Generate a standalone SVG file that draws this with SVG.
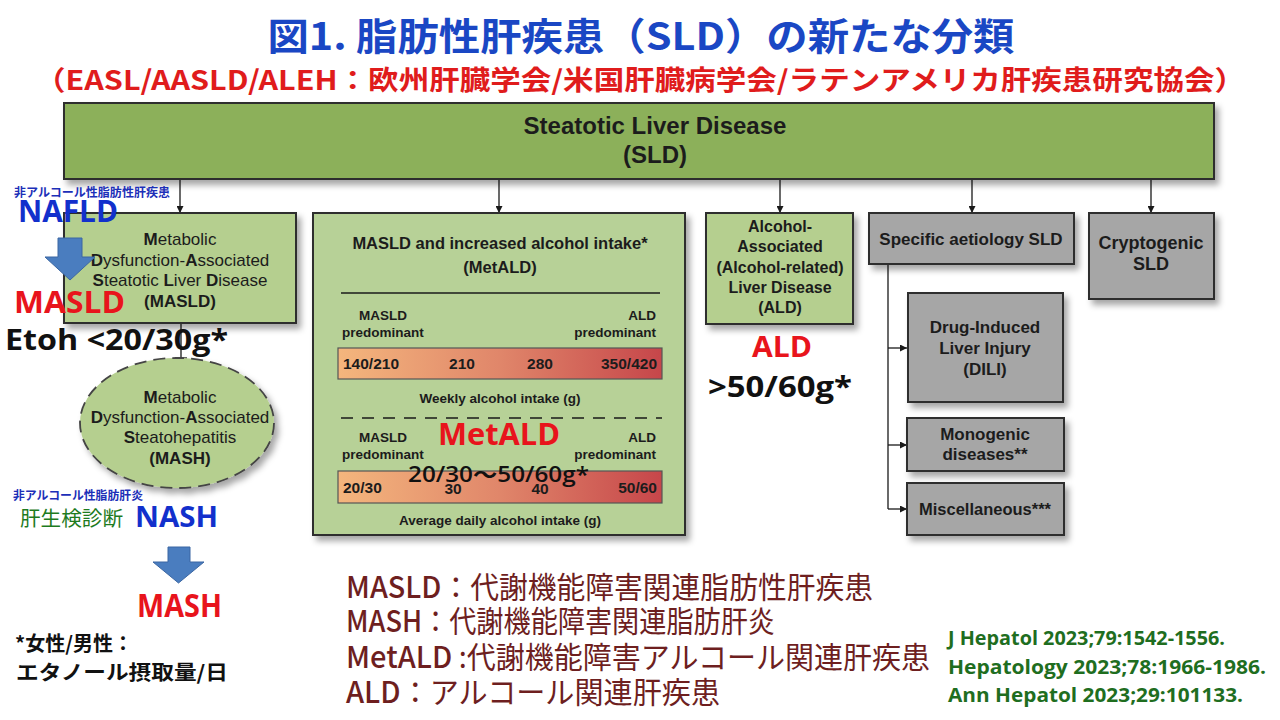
<svg xmlns="http://www.w3.org/2000/svg" width="1280" height="720" viewBox="0 0 1280 720">
<defs>
<style>
.bx{font-family:"Liberation Sans",Arial,sans-serif;fill:#1c1c1c;text-anchor:middle}
.b{font-weight:bold}
.jp{font-family:"Open Sans","Noto Sans CJK JP",sans-serif;font-weight:bold}
.cn{stroke:#1a1a1a;stroke-width:1.3;fill:none}
.gbox{fill:#a6a6a6;stroke:#2e2e2e;stroke-width:2}
.lbox{fill:#b5cf8f;stroke:#2e2e2e;stroke-width:2}
.barnum{font-size:15.5px;font-weight:bold}
.small{font-size:13.5px;font-weight:bold}
.bot{font-family:"Noto Sans CJK JP",sans-serif;fill:#6e1f1f;font-size:30px}
.ref{font-family:"Open Sans","Liberation Sans",sans-serif;fill:#1f6e1f;font-weight:bold;font-size:20px}
.bluearrow{fill:#4a7dbf;stroke:#3b67a3;stroke-width:1}
</style>
<filter id="sh" x="-10%" y="-10%" width="130%" height="140%">
<feDropShadow dx="4" dy="5" stdDeviation="3" flood-color="#000" flood-opacity="0.35"/>
</filter>
<marker id="ah" viewBox="0 0 10 10" refX="10" refY="5" markerWidth="7" markerHeight="7" orient="auto" markerUnits="userSpaceOnUse">
<path d="M0,0 L10,5 L0,10 Z" fill="#1a1a1a"/>
</marker>
<linearGradient id="grad" x1="0" y1="0" x2="1" y2="0">
<stop offset="0" stop-color="#f4b67d"/>
<stop offset="0.5" stop-color="#e0866a"/>
<stop offset="1" stop-color="#c6464a"/>
</linearGradient>
</defs>
<rect width="1280" height="720" fill="#ffffff"/>

<!-- Title -->
<g id="title">
<text x="641" y="50" text-anchor="middle" font-family="'Noto Sans CJK JP',sans-serif" font-weight="bold" font-size="38" fill="#1a47c4" textLength="747" lengthAdjust="spacingAndGlyphs">図1. 脂肪性肝疾患（SLD）の新たな分類</text>
<text x="640" y="90" text-anchor="middle" font-family="'Noto Sans CJK JP',sans-serif" font-weight="bold" font-size="27" fill="#e01c1c" textLength="1210" lengthAdjust="spacingAndGlyphs">（EASL/AASLD/ALEH：欧州肝臓学会/米国肝臓病学会/ラテンアメリカ肝疾患研究協会）</text>
</g>

<!-- Connectors -->
<g id="connectors">
<line class="cn" x1="180" y1="179" x2="180" y2="213" marker-end="url(#ah)"/>
<line class="cn" x1="499" y1="179" x2="499" y2="213" marker-end="url(#ah)"/>
<line class="cn" x1="780" y1="179" x2="780" y2="213" marker-end="url(#ah)"/>
<line class="cn" x1="972" y1="179" x2="972" y2="213" marker-end="url(#ah)"/>
<line class="cn" x1="1151" y1="179" x2="1151" y2="213" marker-end="url(#ah)"/>
<line class="cn" x1="181" y1="323" x2="181" y2="358"/>
<line class="cn" x1="175" y1="358" x2="187" y2="358"/>
<line class="cn" x1="888" y1="264" x2="888" y2="509"/>
<line class="cn" x1="888" y1="348" x2="907" y2="348" marker-end="url(#ah)"/>
<line class="cn" x1="888" y1="445" x2="907" y2="445" marker-end="url(#ah)"/>
<line class="cn" x1="888" y1="509" x2="907" y2="509" marker-end="url(#ah)"/>
</g>

<!-- SLD -->
<g id="sld">
<rect x="64" y="103" width="1150" height="76" fill="#8cb05a" stroke="#2e2e2e" stroke-width="2" filter="url(#sh)"/>
<text class="bx b" x="655" y="134" font-size="24">Steatotic Liver Disease</text>
<text class="bx b" x="655" y="163" font-size="24">(SLD)</text>
</g>

<!-- MASLD -->
<g id="masld">
<rect class="lbox" x="64" y="213" width="232" height="110" filter="url(#sh)"/>
<text class="bx" x="180" y="245" font-size="17"><tspan font-weight="bold">M</tspan>etabolic</text>
<text class="bx" x="180" y="266" font-size="17"><tspan font-weight="bold">D</tspan>ysfunction-<tspan font-weight="bold">A</tspan>ssociated</text>
<text class="bx" x="180" y="286" font-size="17"><tspan font-weight="bold">S</tspan>teatotic <tspan font-weight="bold">L</tspan>iver <tspan font-weight="bold">D</tspan>isease</text>
<text class="bx b" x="180" y="307" font-size="17">(MASLD)</text>
</g>

<!-- MASH -->
<g id="mash">
<ellipse cx="177" cy="423" rx="97" ry="65" fill="#b5cf8f" stroke="#444" stroke-width="1.8" stroke-dasharray="12,7" filter="url(#sh)"/>
<text class="bx" x="180" y="403" font-size="17"><tspan font-weight="bold">M</tspan>etabolic</text>
<text class="bx" x="180" y="423" font-size="17"><tspan font-weight="bold">D</tspan>ysfunction-<tspan font-weight="bold">A</tspan>ssociated</text>
<text class="bx" x="180" y="443" font-size="17"><tspan font-weight="bold">S</tspan>teatohepatitis</text>
<text class="bx b" x="180" y="464" font-size="17">(MASH)</text>
</g>

<!-- MetALD -->
<g id="metald">
<rect x="313" y="213" width="372" height="322" fill="#b7d197" stroke="#2e2e2e" stroke-width="2" filter="url(#sh)"/>
<text class="bx b" x="500" y="249" font-size="16.5">MASLD and increased alcohol intake*</text>
<text class="bx b" x="500" y="273" font-size="16.5">(MetALD)</text>
<line x1="341" y1="293" x2="660" y2="293" stroke="#1a1a1a" stroke-width="1.5"/>
<text class="bx small" x="383" y="320">MASLD</text>
<text class="bx small" x="383" y="337">predominant</text>
<text class="bx small" x="656" y="320" style="text-anchor:end">ALD</text>
<text class="bx small" x="656" y="337" style="text-anchor:end">predominant</text>
<rect x="338" y="348" width="324" height="31" fill="url(#grad)" stroke="#555" stroke-width="1.2"/>
<text class="bx barnum" x="343" y="369" style="text-anchor:start">140/210</text>
<text class="bx barnum" x="462" y="369">210</text>
<text class="bx barnum" x="540" y="369">280</text>
<text class="bx barnum" x="657" y="369" style="text-anchor:end">350/420</text>
<text class="bx small" x="500" y="403">Weekly alcohol intake (g)</text>
<line x1="341" y1="418" x2="662" y2="418" stroke="#1a1a1a" stroke-width="1.5" stroke-dasharray="12,9"/>
<text class="bx small" x="383" y="442">MASLD</text>
<text class="bx small" x="383" y="459">predominant</text>
<text class="bx small" x="656" y="442" style="text-anchor:end">ALD</text>
<text class="bx small" x="656" y="459" style="text-anchor:end">predominant</text>
<rect x="338" y="471" width="324" height="32" fill="url(#grad)" stroke="#555" stroke-width="1.2"/>
<text class="bx barnum" x="343" y="493" style="text-anchor:start">20/30</text>
<text class="bx barnum" x="453" y="494">30</text>
<text class="bx barnum" x="540" y="494">40</text>
<text class="bx barnum" x="657" y="493" style="text-anchor:end">50/60</text>
<text class="bx small" x="500" y="525">Average daily alcohol intake (g)</text>
</g>

<!-- ALD -->
<g id="ald">
<rect class="lbox" x="706" y="213" width="147" height="111" filter="url(#sh)"/>
<text class="bx b" x="780" y="232" font-size="16">Alcohol-</text>
<text class="bx b" x="780" y="252" font-size="16">Associated</text>
<text class="bx b" x="780" y="273" font-size="16">(Alcohol-related)</text>
<text class="bx b" x="780" y="293" font-size="16">Liver Disease</text>
<text class="bx b" x="780" y="313" font-size="16">(ALD)</text>
</g>

<!-- Specific aetiology -->
<g id="specific">
<rect class="gbox" x="869" y="213" width="205" height="51" filter="url(#sh)"/>
<text class="bx b" x="971" y="245" font-size="17">Specific aetiology SLD</text>
</g>
<g id="cryptogenic">
<rect class="gbox" x="1089" y="213" width="125" height="86" filter="url(#sh)"/>
<text class="bx b" x="1151" y="249" font-size="18">Cryptogenic</text>
<text class="bx b" x="1151" y="270" font-size="18">SLD</text>
</g>
<g id="dili">
<rect class="gbox" x="908" y="293" width="155" height="109" filter="url(#sh)"/>
<text class="bx b" x="985" y="333" font-size="17">Drug-Induced</text>
<text class="bx b" x="985" y="354" font-size="17">Liver Injury</text>
<text class="bx b" x="985" y="375" font-size="17">(DILI)</text>
</g>
<g id="monogenic">
<rect class="gbox" x="907" y="418" width="157" height="53" filter="url(#sh)"/>
<text class="bx b" x="985" y="440" font-size="17">Monogenic</text>
<text class="bx b" x="985" y="460" font-size="17">diseases**</text>
</g>
<g id="misc">
<rect class="gbox" x="907" y="483" width="157" height="52" filter="url(#sh)"/>
<text class="bx b" x="985" y="515" font-size="16.5">Miscellaneous***</text>
</g>

<!-- Overlay annotations -->
<g id="left-notes">
<text x="14" y="197" font-family="'Noto Sans CJK JP',sans-serif" font-weight="bold" font-size="12" fill="#1c2fb8" textLength="156" lengthAdjust="spacingAndGlyphs">非アルコール性脂肪性肝疾患</text>
<text class="jp" x="18" y="222" font-size="31" fill="#1230cc" textLength="100" lengthAdjust="spacingAndGlyphs">NAFLD</text>
<path class="bluearrow" d="M58,238 H82 V257 H95 L70,280 L45,257 H58 Z"/>
<text class="jp" x="14" y="313" font-size="31" fill="#e8141c" textLength="111" lengthAdjust="spacingAndGlyphs">MASLD</text>
<text class="jp" x="5" y="350" font-size="29" fill="#111" textLength="223" lengthAdjust="spacingAndGlyphs">Etoh &lt;20/30g*</text>
<text x="13" y="500" font-family="'Noto Sans CJK JP',sans-serif" font-weight="bold" font-size="12" fill="#1c2fb8" textLength="130" lengthAdjust="spacingAndGlyphs">非アルコール性脂肪肝炎</text>
<text x="20" y="526" font-family="'Noto Sans CJK JP',sans-serif" font-size="20" fill="#1e7b1e" textLength="103" lengthAdjust="spacingAndGlyphs">肝生検診断</text>
<text class="jp" x="135" y="527" font-size="29" fill="#1230cc" textLength="83" lengthAdjust="spacingAndGlyphs">NASH</text>
<path class="bluearrow" d="M168,547 H190 V562 H204 L178.5,583 L153,562 H168 Z"/>
<text class="jp" x="137" y="617" font-size="32" fill="#e8141c" textLength="85" lengthAdjust="spacingAndGlyphs">MASH</text>
<text x="15" y="651" font-family="'Noto Sans CJK JP',sans-serif" font-weight="bold" font-size="20" fill="#111">*女性/男性：</text>
<text x="16" y="680" font-family="'Noto Sans CJK JP',sans-serif" font-weight="bold" font-size="20" fill="#111" textLength="212" lengthAdjust="spacingAndGlyphs">エタノール摂取量/日</text>
</g>

<g id="center-notes">
<text class="jp" x="438" y="445" font-size="30" fill="#e8141c" textLength="122" lengthAdjust="spacingAndGlyphs">MetALD</text>
<text x="408" y="482" font-family="'Open Sans','Noto Sans CJK JP',sans-serif" font-weight="600" font-size="21" fill="#111" textLength="181" lengthAdjust="spacingAndGlyphs">20/30〜50/60g*</text>
<text class="jp" x="752" y="357" font-size="28" fill="#e8141c" textLength="60" lengthAdjust="spacingAndGlyphs">ALD</text>
<text class="jp" x="708" y="397" font-size="29" fill="#111" textLength="144" lengthAdjust="spacingAndGlyphs">&gt;50/60g*</text>
</g>

<g id="definitions">
<text class="bot" x="346" y="598" textLength="527" lengthAdjust="spacingAndGlyphs"><tspan font-weight="500">MASLD</tspan>：代謝機能障害関連脂肪性肝疾患</text>
<text class="bot" x="346" y="632" textLength="429" lengthAdjust="spacingAndGlyphs"><tspan font-weight="500">MASH</tspan>：代謝機能障害関連脂肪肝炎</text>
<text class="bot" x="346" y="668" textLength="584" lengthAdjust="spacingAndGlyphs"><tspan font-weight="500">MetALD</tspan> :代謝機能障害アルコール関連肝疾患</text>
<text class="bot" x="346" y="703" textLength="374" lengthAdjust="spacingAndGlyphs"><tspan font-weight="500">ALD</tspan>：アルコール関連肝疾患</text>
</g>

<g id="references">
<text class="ref" x="948" y="645" textLength="277" lengthAdjust="spacingAndGlyphs">J Hepatol 2023;79:1542-1556.</text>
<text class="ref" x="948" y="674" textLength="318" lengthAdjust="spacingAndGlyphs">Hepatology 2023;78:1966-1986.</text>
<text class="ref" x="948" y="702" textLength="295" lengthAdjust="spacingAndGlyphs">Ann Hepatol 2023;29:101133.</text>
</g>
</svg>
